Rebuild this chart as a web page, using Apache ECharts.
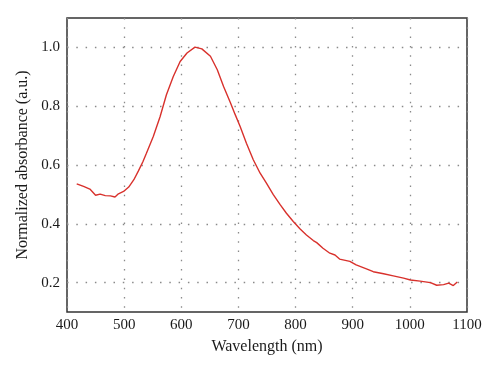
<!DOCTYPE html>
<html>
<head>
<meta charset="utf-8">
<script src="https://cdn.jsdelivr.net/npm/echarts@6/dist/echarts.min.js"></script>
<style>
html,body{margin:0;padding:0;background:#fff;}
#chart{width:500px;height:375px;}
</style>
</head>
<body>
<div id="chart"></div>
<script>
const wavelength = [417,429,440,444,450,458,467,476,484,490,499,508,517,525,533,539,551,563,574,586,598,610,624,636,651,663,674,686,694,703,714,726,738,749,761,773,784,796,808,819,831,837,848,860,869,877,895,906,924,936,954,971,989,1001,1018,1036,1047,1059,1068,1076,1083];
const absorbance = [0.536,0.527,0.518,0.510,0.497,0.501,0.496,0.495,0.491,0.502,0.510,0.525,0.550,0.580,0.612,0.640,0.697,0.765,0.839,0.901,0.952,0.981,1.001,0.995,0.970,0.924,0.867,0.812,0.773,0.731,0.674,0.618,0.572,0.538,0.499,0.465,0.436,0.408,0.382,0.362,0.343,0.336,0.317,0.300,0.294,0.280,0.272,0.260,0.247,0.237,0.230,0.223,0.215,0.209,0.205,0.200,0.191,0.193,0.198,0.190,0.202];
const yTicks = [0.2,0.4,0.6,0.8,1.0];
const xTicks = [400,500,600,700,800,900,1000,1100];

const data = wavelength.map((w,i)=>[w,absorbance[i]]);
const font = 'Liberation Serif';
const gridLine = {show:true,lineStyle:{color:'#8a8a8a',type:[1.5,7.8],width:1.3}};
const chart = echarts.init(document.getElementById('chart'),null,{renderer:'canvas'});
chart.setOption({
  animation:false,
  backgroundColor:'#fff',
  grid:{left:67,top:18,right:33,bottom:63,show:true,borderColor:'#333',borderWidth:1.5,backgroundColor:'transparent'},
  xAxis:{
    type:'value',min:400,max:1100,
    axisLine:{show:false},axisTick:{show:false,customValues:xTicks},
    splitLine:gridLine,
    axisLabel:{customValues:xTicks,formatter:v=>String(v),fontFamily:font,fontSize:15,color:'#1a1a1a',margin:6},
    name:'Wavelength (nm)',nameLocation:'middle',nameGap:27,
    nameTextStyle:{fontFamily:font,fontSize:16,color:'#1a1a1a'}
  },
  yAxis:{
    type:'value',min:0.1,max:1.1,
    axisLine:{show:false},axisTick:{show:false,customValues:yTicks},
    splitLine:gridLine,
    axisLabel:{customValues:yTicks,formatter:v=>v.toFixed(1),fontFamily:font,fontSize:15,color:'#1a1a1a',margin:7},
    name:'Normalized absorbance (a.u.)',nameLocation:'middle',nameGap:35,
    nameTextStyle:{fontFamily:font,fontSize:16,color:'#1a1a1a'}
  },
  series:[{
    type:'line',data:data,showSymbol:false,smooth:false,
    lineStyle:{color:'#d8312c',width:1.4}
  }]
});
</script>
</body>
</html>
